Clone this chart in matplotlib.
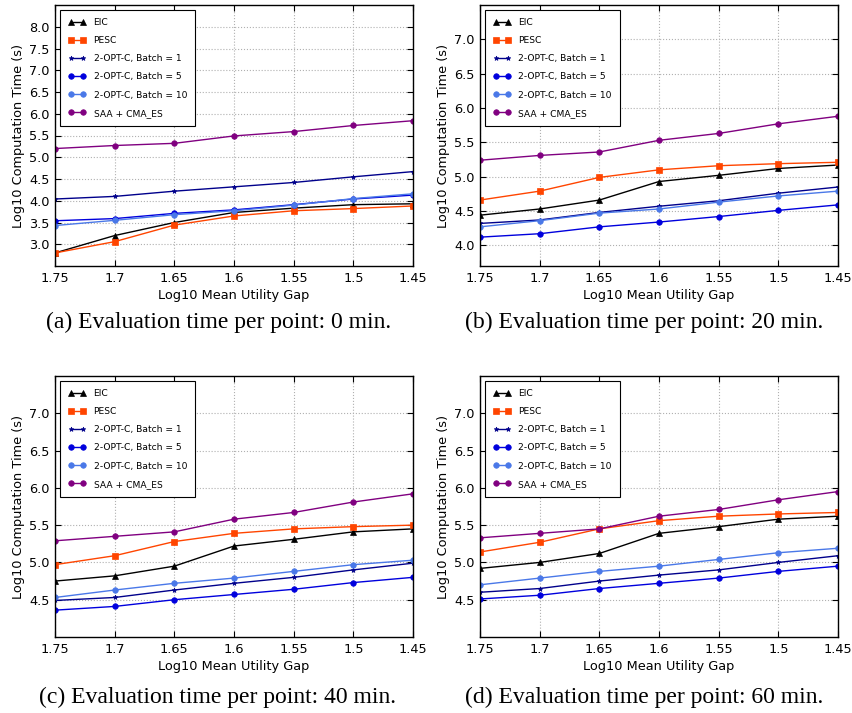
#!/usr/bin/env python

# Computation time vs mean utility gap, four evaluation-time settings

import matplotlib
matplotlib.use('Agg')
import matplotlib.pyplot as plt

gap = [1.75, 1.7, 1.65, 1.6, 1.55, 1.5, 1.45]
gap_labels = ['1.75', '1.7', '1.65', '1.6', '1.55', '1.5', '1.45']

method_names = ['EIC', 'PESC', '2-OPT-C, Batch = 1', '2-OPT-C, Batch = 5',
                '2-OPT-C, Batch = 10', 'SAA + CMA_ES']

# (a) 0 min
eic_0 = [2.80, 3.20, 3.50, 3.73, 3.83, 3.91, 3.93]
pesc_0 = [2.80, 3.06, 3.44, 3.65, 3.77, 3.82, 3.88]
b1_0 = [4.04, 4.10, 4.22, 4.32, 4.42, 4.55, 4.67]
b5_0 = [3.54, 3.59, 3.71, 3.79, 3.91, 4.04, 4.13]
b10_0 = [3.43, 3.55, 3.68, 3.77, 3.90, 4.05, 4.16]
saa_0 = [5.20, 5.27, 5.32, 5.49, 5.59, 5.73, 5.84]

# (b) 20 min
eic_20 = [4.44, 4.53, 4.66, 4.93, 5.02, 5.12, 5.17]
pesc_20 = [4.66, 4.79, 4.99, 5.10, 5.16, 5.19, 5.21]
b1_20 = [4.32, 4.37, 4.48, 4.57, 4.65, 4.76, 4.85]
b5_20 = [4.12, 4.17, 4.27, 4.34, 4.42, 4.51, 4.59]
b10_20 = [4.27, 4.36, 4.47, 4.53, 4.63, 4.72, 4.79]
saa_20 = [5.24, 5.31, 5.36, 5.53, 5.63, 5.77, 5.88]

# (c) 40 min
eic_40 = [4.75, 4.82, 4.95, 5.22, 5.31, 5.41, 5.45]
pesc_40 = [4.97, 5.09, 5.28, 5.39, 5.45, 5.48, 5.50]
b1_40 = [4.49, 4.53, 4.63, 4.72, 4.80, 4.90, 4.99]
b5_40 = [4.36, 4.41, 4.50, 4.57, 4.64, 4.73, 4.80]
b10_40 = [4.53, 4.63, 4.72, 4.79, 4.88, 4.97, 5.03]
saa_40 = [5.29, 5.35, 5.41, 5.58, 5.67, 5.81, 5.92]

# (d) 60 min
eic_60 = [4.92, 5.00, 5.12, 5.39, 5.48, 5.58, 5.62]
pesc_60 = [5.14, 5.27, 5.45, 5.56, 5.62, 5.65, 5.67]
b1_60 = [4.60, 4.65, 4.75, 4.83, 4.90, 5.00, 5.09]
b5_60 = [4.51, 4.56, 4.65, 4.72, 4.79, 4.88, 4.95]
b10_60 = [4.70, 4.79, 4.88, 4.95, 5.04, 5.13, 5.19]
saa_60 = [5.33, 5.39, 5.45, 5.62, 5.71, 5.84, 5.95]

captions = ['(a) Evaluation time per point: 0 min.',
            '(b) Evaluation time per point: 20 min.',
            '(c) Evaluation time per point: 40 min.',
            '(d) Evaluation time per point: 60 min.']

styles = [
    dict(color='black', marker='^', markersize=5),
    dict(color='#ff4500', marker='s', markersize=4),
    dict(color='#00008b', marker='*', markersize=3.5),
    dict(color='#0000dd', marker='o', markersize=4),
    dict(color='#4a78e8', marker='o', markersize=4),
    dict(color='#800080', marker='o', markersize=4),
]

W, H = 852, 713


def draw_panel(fig, box, series, ylim, yticks, caption, cap_xy):
    left, top, right, bottom = box
    ax = fig.add_axes([left / W, 1 - bottom / H, (right - left) / W, (bottom - top) / H])
    for vals, name, st in zip(series, method_names, styles):
        ax.plot(gap, vals, label=name, linewidth=1, markeredgewidth=0.5,
                markeredgecolor=st['color'], **st)
    ax.set_xlim(1.75, 1.45)
    ax.set_ylim(*ylim)
    ax.set_xticks(gap)
    ax.set_xticklabels(gap_labels)
    ax.set_yticks(yticks)
    ax.set_yticklabels(['%.1f' % t for t in yticks])
    ax.tick_params(direction='in', top=True, right=True, labelsize=9.3, length=4, pad=4)
    ax.grid(True, linestyle=':', color='#b0b0b0', linewidth=0.8)
    for sp in ax.spines.values():
        sp.set_linewidth(1.0)
    ax.set_xlabel('Log10 Mean Utility Gap', fontsize=9.3, labelpad=3)
    ax.set_ylabel('Log10 Computation Time (s)', fontsize=9.3, labelpad=3)
    leg = ax.legend(loc='upper left', fontsize=6.6, numpoints=2, fancybox=False,
                    framealpha=1, edgecolor='black', labelspacing=1.0,
                    handlelength=2.0, borderpad=0.9, borderaxespad=0.5)
    leg.get_frame().set_linewidth(0.8)
    fig.text(cap_xy[0] / W, 1 - cap_xy[1] / H, caption, ha='center', va='center',
             fontsize=17, family='Liberation Serif')
    return ax


fig = plt.figure(figsize=(W / 100, H / 100), dpi=100)

draw_panel(fig, (55, 5, 413, 266), [eic_0, pesc_0, b1_0, b5_0, b10_0, saa_0],
           (2.5, 8.5), [3.0, 3.5, 4.0, 4.5, 5.0, 5.5, 6.0, 6.5, 7.0, 7.5, 8.0],
           captions[0], (219, 322))
draw_panel(fig, (480, 5, 838, 266), [eic_20, pesc_20, b1_20, b5_20, b10_20, saa_20],
           (3.7, 7.5), [4.0, 4.5, 5.0, 5.5, 6.0, 6.5, 7.0],
           captions[1], (644, 322))
draw_panel(fig, (55, 376, 413, 637), [eic_40, pesc_40, b1_40, b5_40, b10_40, saa_40],
           (4.0, 7.5), [4.5, 5.0, 5.5, 6.0, 6.5, 7.0],
           captions[2], (218, 697))
draw_panel(fig, (480, 376, 838, 637), [eic_60, pesc_60, b1_60, b5_60, b10_60, saa_60],
           (4.0, 7.5), [4.5, 5.0, 5.5, 6.0, 6.5, 7.0],
           captions[3], (644, 697))

fig.savefig('out.png', dpi=100)
